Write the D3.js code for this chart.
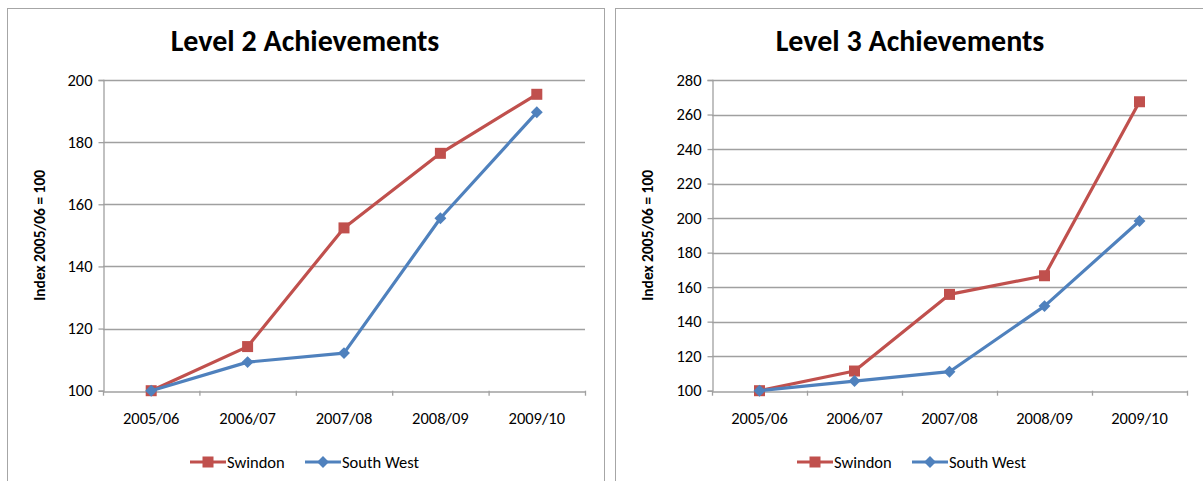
<!DOCTYPE html>
<html>
<head>
<meta charset="utf-8">
<script src="https://cdn.jsdelivr.net/npm/d3@7"></script>
<style>
    body { margin: 0; background: #fff; }
    svg { display: block; font-family: Carlito, Lato, "Liberation Sans", sans-serif; }
</style>
</head>
<body>
<svg id="chart" width="1203" height="481"></svg>
<script>
// Categories shared by both charts
const years = ['2005/06', '2006/07', '2007/08', '2008/09', '2009/10'];

// Level 2 values (index 2005/06 = 100)
const level2Swindon = [100, 114.2, 152.4, 176.4, 195.4];
const level2SouthWest = [100, 109.2, 112.1, 155.5, 189.6];
const level2Ticks = [100, 120, 140, 160, 180, 200];

// Level 3 values (index 2005/06 = 100)
const level3Swindon = [100, 111.4, 155.8, 166.6, 267.4];
const level3SouthWest = [100, 105.6, 111, 149, 198.3];
const level3Ticks = [100, 120, 140, 160, 180, 200, 220, 240, 260, 280];

const seriesNames = ['Swindon', 'South West'];
const red = '#C0504D';
const blue = '#4F81BD';

const svg = d3.select('#chart');

// marker: square for Swindon, wide diamond (rotated square) for South West
function marker(sel, shape, color) {
    if (shape === 'square') {
        sel.append('rect').attr('x', -5.5).attr('y', -5.5).attr('width', 11).attr('height', 11).attr('fill', color);
    } else {
        sel.append('rect').attr('x', -4.2).attr('y', -4.2).attr('width', 8.4).attr('height', 8.4)
            .attr('transform', 'rotate(45)').attr('fill', color);
    }
}

// Function to draw one chart panel
function drawPanel(opt) {
    const g = svg.append('g');

    // outer frame (bottom/right may run off the picture)
    g.append('rect')
        .attr('x', opt.frame[0] + 0.5).attr('y', opt.frame[1] + 0.5)
        .attr('width', opt.frame[2]).attr('height', opt.frame[3])
        .attr('fill', 'none').attr('stroke', '#a6a6a6').attr('stroke-width', 1);

    const x = d3.scaleBand().domain(years).range([opt.left, opt.right]);
    const y = d3.scaleLinear().domain([opt.ticks[0], opt.ticks[opt.ticks.length - 1]]).range([opt.bottom, opt.top]);

    // gridlines
    g.append('g').selectAll('line')
        .data(opt.ticks.slice(1))
        .enter().append('line')
        .attr('x1', opt.left).attr('x2', opt.right)
        .attr('y1', d => Math.round(y(d)) + 0.5).attr('y2', d => Math.round(y(d)) + 0.5)
        .attr('stroke', '#a0a0a0').attr('stroke-width', 1.3);

    // y axis
    const yAxis = g.append('g')
        .attr('transform', `translate(${opt.left + 0.5},0)`)
        .call(d3.axisLeft(y).tickValues(opt.ticks).tickSize(5).tickPadding(6));
    yAxis.select('.domain').attr('stroke', '#a0a0a0').attr('stroke-width', 1.3);
    yAxis.selectAll('.tick line').attr('stroke', '#a0a0a0').attr('stroke-width', 1.3);
    yAxis.selectAll('.tick text').attr('font-size', 16.5).attr('fill', '#000')
        .attr('font-family', 'Carlito, Lato, sans-serif');

    // x axis
    const xAxis = g.append('g')
        .attr('transform', `translate(0,${Math.round(opt.bottom) + 0.5})`)
        .call(d3.axisBottom(x).tickSize(0).tickPadding(21));
    xAxis.select('.domain').attr('stroke', '#a0a0a0').attr('stroke-width', 1.3);
    xAxis.selectAll('.tick text').attr('font-size', 16.5).attr('fill', '#000')
        .attr('font-family', 'Carlito, Lato, sans-serif');
    // category boundary ticks
    g.append('g').selectAll('line')
        .data(years.concat(['end']))
        .enter().append('line')
        .attr('x1', (d, i) => opt.left + i * x.step() + 0.5)
        .attr('x2', (d, i) => opt.left + i * x.step() + 0.5)
        .attr('y1', opt.bottom).attr('y2', opt.bottom + 5)
        .attr('stroke', '#a0a0a0').attr('stroke-width', 1.3);

    // title
    g.append('text')
        .attr('x', opt.titleX).attr('y', 51)
        .attr('text-anchor', 'middle')
        .attr('font-size', 30).attr('font-weight', 'bold')
        .text(opt.title);

    // y axis title
    g.append('text')
        .attr('transform', `translate(${opt.yTitleX},${(opt.top + opt.bottom) / 2}) rotate(-90)`)
        .attr('text-anchor', 'middle')
        .attr('font-size', 15.5).attr('font-weight', 'bold')
        .text('Index 2005/06 = 100');

    const line = d3.line().x((d, i) => x(years[i]) + x.bandwidth() / 2).y(d => y(d));

    const series = [
        { name: seriesNames[0], values: opt.swindon, color: red, shape: 'square' },
        { name: seriesNames[1], values: opt.southWest, color: blue, shape: 'diamond' }
    ];

    series.forEach(s => {
        g.append('path')
            .datum(s.values)
            .attr('d', line)
            .attr('fill', 'none')
            .attr('stroke', s.color)
            .attr('stroke-width', 3.2)
            .attr('stroke-linejoin', 'round');
        g.append('g').selectAll('g')
            .data(s.values)
            .enter().append('g')
            .attr('transform', (d, i) => `translate(${x(years[i]) + x.bandwidth() / 2},${y(d)})`)
            .each(function() { marker(d3.select(this), s.shape, s.color); });
    });

    // legend
    const legend = g.append('g').attr('transform', `translate(${opt.legendX},462)`);
    series.forEach((s, i) => {
        const lx = i === 0 ? 0 : opt.legendGap;
        legend.append('line')
            .attr('x1', lx).attr('x2', lx + 36)
            .attr('y1', 0).attr('y2', 0)
            .attr('stroke', s.color).attr('stroke-width', 3.2);
        marker(legend.append('g').attr('transform', `translate(${lx + 18},0)`), s.shape, s.color);
        legend.append('text')
            .attr('x', lx + 37).attr('y', 6)
            .attr('font-size', 16.5)
            .text(s.name);
    });
}

drawPanel({
    title: 'Level 2 Achievements', titleX: 305, yTitleX: 45,
    frame: [7, 8, 597, 500],
    left: 103, right: 585, top: 80, bottom: 390.7,
    ticks: level2Ticks, swindon: level2Swindon, southWest: level2SouthWest,
    legendX: 190, legendGap: 115
});

drawPanel({
    title: 'Level 3 Achievements', titleX: 910, yTitleX: 653,
    frame: [615, 8, 600, 500],
    left: 712, right: 1187, top: 80, bottom: 390.7,
    ticks: level3Ticks, swindon: level3Swindon, southWest: level3SouthWest,
    legendX: 797, legendGap: 115
});
</script>
</body>
</html>
